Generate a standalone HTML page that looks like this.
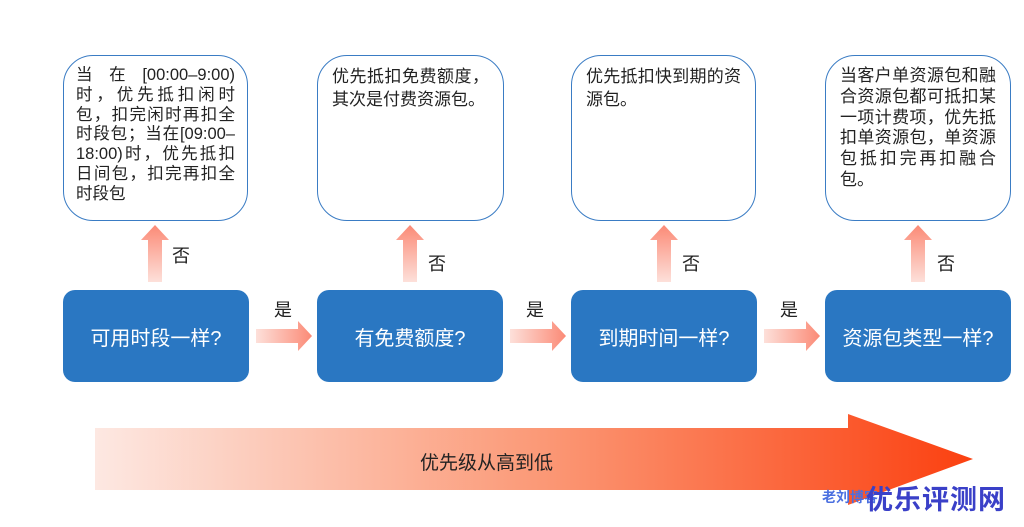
<!DOCTYPE html>
<html><head><meta charset="utf-8"><style>
body{margin:0;width:1024px;height:527px;background:#fff;position:relative;overflow:hidden;font-family:"Liberation Sans","Noto Sans CJK SC",sans-serif;}
.t{position:absolute;top:55px;height:166px;border:1.5px solid #3a7cc4;border-radius:30px;box-sizing:border-box;padding:9px 14px;font-size:17px;line-height:22px;color:#222;text-align:justify;text-align-last:left;}
.t .j{text-align:justify;text-align-last:justify;white-space:nowrap;}
.t .j2{white-space:nowrap;}
.b{position:absolute;top:290px;height:92px;background:#2a77c2;border-radius:12px;color:#fff;font-size:20px;display:flex;align-items:center;justify-content:center;}
.l{position:absolute;font-size:18px;color:#222;}
</style></head><body>
<div class="t" style="left:63px;width:185px;padding:10px 12px;font-size:16.5px;line-height:19.8px;">
<div class="j">当 在 [00:00–9:00)</div>
<div class="j">时，优先抵扣闲时</div>
<div class="j">包，扣完闲时再扣全</div>
<div class="j">时段包；当在[09:00–</div>
<div class="j">18:00)时，优先抵扣</div>
<div class="j">日间包，扣完再扣全</div>
<div class="j2">时段包</div>
</div>
<div class="t" style="left:317px;width:187px;line-height:23px;">优先抵扣免费额度，其次是付费资源包。</div>
<div class="t" style="left:571px;width:185px;line-height:23px;">优先抵扣快到期的资源包。</div>
<div class="t" style="left:825px;width:186px;line-height:20.8px;padding-top:10px;">当客户单资源包和融合资源包都可抵扣某一项计费项，优先抵扣单资源包，单资源包抵扣完再扣融合包。</div>
<div class="b" style="left:63px;width:186px;">可用时段一样?</div>
<div class="b" style="left:317px;width:186px;">有免费额度?</div>
<div class="b" style="left:571px;width:186px;">到期时间一样?</div>
<div class="b" style="left:825px;width:186px;">资源包类型一样?</div>
<svg width="1024" height="527" style="position:absolute;left:0;top:0">
<defs>
<linearGradient id="u" x1="0" y1="1" x2="0" y2="0"><stop offset="0" stop-color="#fde0da"/><stop offset="1" stop-color="#fb8a76"/></linearGradient>
<linearGradient id="r" x1="0" y1="0" x2="1" y2="0"><stop offset="0" stop-color="#fde0da"/><stop offset="1" stop-color="#fb8a76"/></linearGradient>
<linearGradient id="g" x1="95" y1="0" x2="973" y2="0" gradientUnits="userSpaceOnUse"><stop offset="0" stop-color="#fde8e2"/><stop offset="0.5" stop-color="#fb9a78"/><stop offset="1" stop-color="#fb4010"/></linearGradient>
<g id="up"><polygon points="-7,282 7,282 7,240 14,240 0,225 -14,240 -7,240" fill="url(#u)"/></g>
<g id="rt"><polygon points="256,329 298,329 298,321 312,336 298,351 298,343 256,343" fill="url(#r)"/></g>
</defs>
<use href="#up" x="155"/><use href="#up" x="410"/><use href="#up" x="664"/><use href="#up" x="918"/>
<use href="#rt"/><use href="#rt" x="254"/><use href="#rt" x="508"/>
<polygon points="95,428 848,428 848,414 973,459 848,505 848,490 95,490" fill="url(#g)"/>
</svg>
<div class="l" style="left:172px;top:242px">否</div>
<div class="l" style="left:428px;top:250px">否</div>
<div class="l" style="left:682px;top:250px">否</div>
<div class="l" style="left:937px;top:250px">否</div>
<div class="l" style="left:274px;top:296px">是</div>
<div class="l" style="left:526px;top:296px">是</div>
<div class="l" style="left:780px;top:296px">是</div>
<div class="l" style="left:420px;top:448px;font-size:19px">优先级从高到低</div>
<div style="position:absolute;left:822px;top:487px;font-size:14px;color:#4a6fe0;font-weight:bold">老刘博客</div>
<div style="position:absolute;left:866px;top:478px;font-size:27px;color:#3a40c8;font-weight:bold;letter-spacing:1px">优乐评测网</div>
</body></html>
